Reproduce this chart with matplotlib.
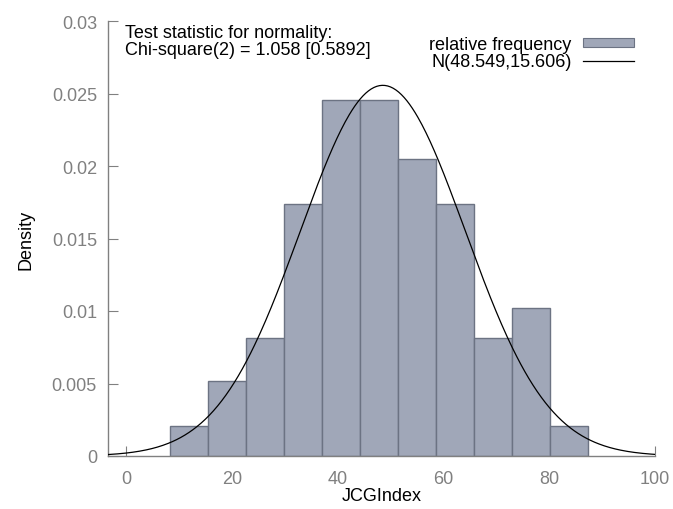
import numpy as np
import matplotlib
matplotlib.use("Agg")
import matplotlib.pyplot as plt
from matplotlib.patches import Patch
from matplotlib.lines import Line2D

plt.rcParams['font.family'] = ['Liberation Sans', 'DejaVu Sans']

# histogram of JCGIndex (density scale)
bin_left = 8.4
bin_width = 7.17
densities = [0.00205, 0.00514, 0.00817, 0.01735, 0.02455, 0.02455,
             0.0205, 0.01735, 0.00817, 0.0102, 0.00205]

# fitted normal
mu = 48.549
sigma = 15.606

x_ticks = [0, 20, 40, 60, 80, 100]
y_ticks = [0, 0.005, 0.01, 0.015, 0.02, 0.025, 0.03]
y_ticklabels = ["0", "0.005", "0.01", "0.015", "0.02", "0.025", "0.03"]

grey = "#808080"
fs = 13

fig = plt.figure(figsize=(6.73, 5.10), dpi=100)
ax = fig.add_axes([108/673, 1 - 457/510, (655-108)/673, (457-22)/510])

lefts = bin_left + bin_width * np.arange(len(densities))
ax.bar(lefts, densities, width=bin_width, align="edge", color="#a0a7b8",
       edgecolor="#6c7383", linewidth=1.0, zorder=2)

xs = np.linspace(-3.4, 100, 400)
pdf = np.exp(-0.5 * ((xs - mu) / sigma) ** 2) / (sigma * np.sqrt(2 * np.pi))
ax.plot(xs, pdf, color="black", linewidth=0.9, zorder=3)

ax.set_xlim(-3.4, 100)
ax.set_ylim(0, 0.03)
ax.set_xticks(x_ticks)
ax.set_yticks(y_ticks)
ax.set_yticklabels(y_ticklabels)
ax.set_axisbelow(True)
for s in ["top", "right"]:
    ax.spines[s].set_visible(False)
for s in ["left", "bottom"]:
    ax.spines[s].set_color(grey)
    ax.spines[s].set_linewidth(1.0)
ax.tick_params(direction="in", length=7, color=grey, labelcolor=grey,
               labelsize=fs)
ax.tick_params(axis="x", pad=10)
ax.tick_params(axis="y", pad=8)

ax.set_xlabel("JCGIndex", fontsize=fs, labelpad=0)
ax.set_ylabel("Density", fontsize=fs, labelpad=12)

ax.text(0.031, 1 - 11/435, "Test statistic for normality:", transform=ax.transAxes,
        fontsize=fs, va="center", ha="left")
ax.text(0.031, 1 - 28/435, "Chi-square(2) = 1.058 [0.5892]", transform=ax.transAxes,
        fontsize=fs, va="center", ha="left")

handles = [Patch(facecolor="#a0a7b8", edgecolor="#6c7383", linewidth=0.8),
           Line2D([], [], color="black", linewidth=0.9)]
ax.legend(handles, ["relative frequency", "N(48.549,15.606)"],
          loc="upper right", bbox_to_anchor=(0.9616, 1 - 15/435), frameon=False,
          markerfirst=False, fontsize=fs, handlelength=2.85,
          handletextpad=0.6, handleheight=0.45, labelspacing=0.02,
          borderpad=0, borderaxespad=0)

fig.savefig("out.png", dpi=100)
